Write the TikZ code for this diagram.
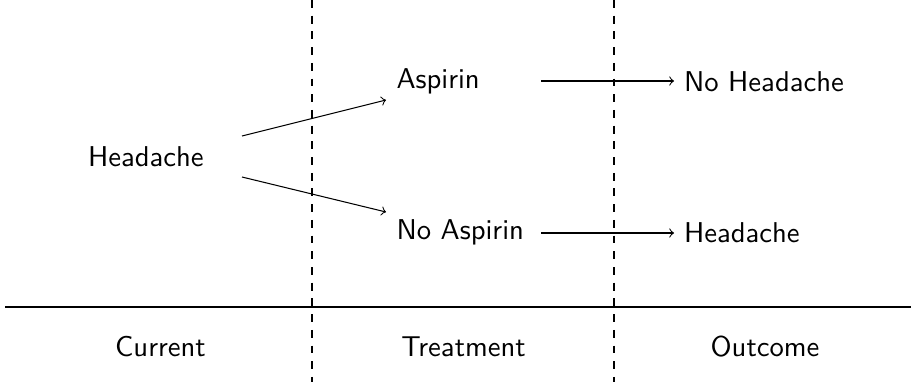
\documentclass[tikz,border=0pt]{standalone}
\renewcommand{\familydefault}{\sfdefault}
\begin{document}
\begin{tikzpicture}[x=0.382pt,y=-0.382pt,
  every node/.style={font=\sffamily\fontsize{10.95}{13.6}\selectfont},
  lbl/.style={inner sep=0pt,anchor=base west},
  caption/.style={inner sep=0pt,anchor=base},
  conn/.style={->,thin},
  sepline/.style={dashed,thin}]
\useasboundingbox (0,0) rectangle (917,382);
% separators
\coordinate (v1t) at (312,0); \coordinate (v1b) at (312,382);
\coordinate (v2t) at (614,0); \coordinate (v2b) at (614,382);
\coordinate (hl) at (5,307); \coordinate (hr) at (911,307);
\draw[sepline] (v1t) -- (v1b);
\draw[sepline] (v2t) -- (v2b);
\draw[thin] (hl) -- (hr);
% nodes
\node[lbl] (h0) at (87.5,166) {Headache};
\node[lbl] (asp) at (396,88) {Aspirin};
\node[lbl] (nasp) at (396,239) {No Aspirin};
\node[lbl] (nh) at (683.5,92) {No Headache};
\node[lbl] (h1) at (683.5,242) {Headache};
% labels
\node[caption] (cur) at (160.5,356) {Current};
\node[caption] (trt) at (463.5,356) {Treatment};
\node[caption] (out) at (765,356) {Outcome};
% arrow endpoints
\coordinate (a1s) at (242,136); \coordinate (a1e) at (386,100);
\coordinate (a2s) at (242,177); \coordinate (a2e) at (386,212);
\coordinate (a3s) at (541,81); \coordinate (a3e) at (674,81);
\coordinate (a4s) at (541,233); \coordinate (a4e) at (674,233);
\draw[conn] (a1s) -- (a1e);
\draw[conn] (a2s) -- (a2e);
\draw[conn] (a3s) -- (a3e);
\draw[conn] (a4s) -- (a4e);
\end{tikzpicture}
\end{document}
